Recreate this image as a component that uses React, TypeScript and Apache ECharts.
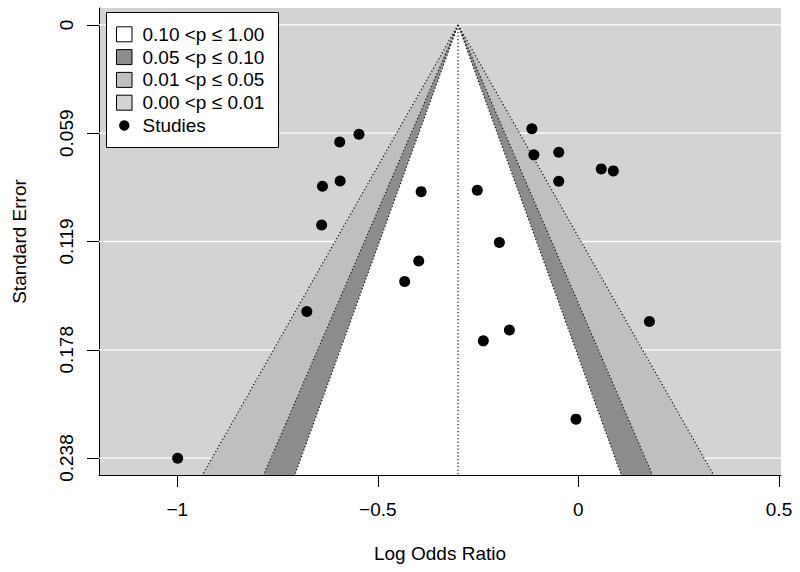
import React, { useEffect, useRef } from "react";
import * as echarts from "echarts";

// Study estimates (log odds ratio) and their standard errors
const studyLogOR = [
  -0.547, -0.595, -0.594, -0.638, -0.392, -0.64, -0.398, -0.433, -0.677, -0.999,
  -0.116, -0.111, -0.049, 0.057, 0.087, -0.049, -0.252, -0.197, -0.172, -0.237, 0.177, -0.006,
];
const studySE = [
  0.0601, 0.0643, 0.0857, 0.0886, 0.0916, 0.1099, 0.1297, 0.141, 0.1575, 0.2381,
  0.057, 0.0714, 0.0699, 0.0791, 0.0802, 0.0859, 0.0908, 0.1196, 0.1676, 0.1736, 0.163, 0.2166,
];

const pooledEstimate = -0.3;
// contour critical values, outermost first (p = 0.01, 0.05, 0.10)
const contourZ = [2.576, 1.96, 1.645];
const contourColors = ["#BFBFBF", "#8C8C8C", "#FFFFFF"];
const backColor = "#D3D3D3";

const xTickValues = [-1, -0.5, 0, 0.5];
const xTickLabels = ["\u22121", "\u22120.5", "0", "0.5"];
const yTickValues = [0, 0.0595, 0.119, 0.1785, 0.238];
const yTickLabels = ["0", "0.059", "0.119", "0.178", "0.238"];

const legendLabels = ["0.10 <p \u2264 1.00", "0.05 <p \u2264 0.10", "0.01 <p \u2264 0.05", "0.00 <p \u2264 0.01", "Studies"];
const legendColors = ["#FFFFFF", "#8C8C8C", "#BFBFBF", "#D3D3D3", "#000000"];

const X_MIN = -1.195;
const X_MAX = 0.505;
const Y_MIN = -0.0093;
const Y_MAX = 0.2473;

const FONT = "Liberation Sans, Arial, Helvetica, sans-serif";
const FS = 19;

function nearestLabel(v: number, vals: number[], labels: string[]) {
  let best = 0;
  for (let i = 1; i < vals.length; i++) {
    if (Math.abs(vals[i] - v) < Math.abs(vals[best] - v)) best = i;
  }
  return labels[best];
}

export default function App() {
  const ref = useRef<HTMLDivElement>(null);

  useEffect(() => {
    if (!ref.current) return;
    const chart = echarts.init(ref.current, undefined, { renderer: "svg" });

    const legendRowTop = 34.3;
    const legendStep = 22.8;
    const legendElements: any[] = [
      {
        type: "rect",
        shape: { x: 106.5, y: 12.5, width: 172, height: 135 },
        style: { fill: "#FFFFFF", stroke: "#000000", lineWidth: 1 },
        z: 100,
      },
    ];
    legendLabels.forEach((lab, i) => {
      const cy = legendRowTop + i * legendStep;
      if (i < 4) {
        legendElements.push({
          type: "rect",
          shape: { x: 116.5, y: cy - 7.5, width: 15.5, height: 15 },
          style: { fill: legendColors[i], stroke: "#000000", lineWidth: 1 },
          z: 101,
        });
      } else {
        legendElements.push({
          type: "circle",
          shape: { cx: 124.3, cy, r: 5.2 },
          style: { fill: legendColors[i] },
          z: 101,
        });
      }
      legendElements.push({
        type: "text",
        x: 142.5,
        y: cy,
        style: {
          text: lab,
          fill: "#000000",
          font: `${FS}px ${FONT}`,
          textAlign: "left",
          textVerticalAlign: "middle",
        },
        z: 101,
      });
    });

    const option: any = {
      animation: false,
      backgroundColor: "#FFFFFF",
      textStyle: { fontFamily: FONT },
      grid: {
        left: 99,
        right: 19,
        top: 8,
        bottom: 97,
        show: true,
        backgroundColor: backColor,
        borderWidth: 0,
        containLabel: false,
      },
      xAxis: {
        type: "value",
        min: X_MIN,
        max: X_MAX,
        name: "Log Odds Ratio",
        nameLocation: "middle",
        nameGap: 69,
        nameTextStyle: { fontSize: FS, color: "#000", fontFamily: FONT },
        axisLine: { show: true, onZero: false, lineStyle: { color: "#000", width: 1 } },
        axisTick: { show: true, length: 12, inside: false, customValues: xTickValues, lineStyle: { color: "#000", width: 1 } },
        axisLabel: {
          show: true,
          customValues: xTickValues,
          margin: 25,
          fontSize: FS,
          color: "#000",
          fontFamily: FONT,
          formatter: (v: number) => nearestLabel(v, xTickValues, xTickLabels),
        },
        splitLine: { show: false },
      },
      yAxis: {
        type: "value",
        inverse: true,
        min: Y_MIN,
        max: Y_MAX,
        name: "Standard Error",
        nameLocation: "middle",
        nameGap: 70,
        nameRotate: 90,
        nameTextStyle: { fontSize: FS, color: "#000", fontFamily: FONT },
        axisLine: { show: true, onZero: false, lineStyle: { color: "#000", width: 1 } },
        axisTick: { show: true, length: 12, inside: false, customValues: yTickValues, lineStyle: { color: "#000", width: 1 } },
        axisLabel: {
          show: true,
          customValues: yTickValues,
          rotate: 90,
          margin: 23,
          fontSize: FS,
          color: "#000",
          fontFamily: FONT,
          formatter: (v: number) => nearestLabel(v, yTickValues, yTickLabels),
        },
        splitLine: { show: false },
      },
      graphic: legendElements,
      series: [
        {
          name: "gridlines",
          type: "custom",
          z: 1,
          silent: true,
          data: yTickValues.map((v) => [0, v]),
          encode: { x: 0, y: 1 },
          renderItem: (params: any, api: any) => {
            const v = api.value(1);
            const p1 = api.coord([X_MIN, v]);
            const p2 = api.coord([X_MAX, v]);
            return {
              type: "line",
              shape: { x1: p1[0], y1: p1[1], x2: p2[0], y2: p2[1] },
              style: { stroke: "#FFFFFF", lineWidth: 1.3 },
            };
          },
        },
        {
          name: "contours",
          type: "custom",
          z: 2,
          silent: true,
          data: contourZ.map((z, i) => [z, i]),
          encode: { x: -1, y: -1 },
          renderItem: (params: any, api: any) => {
            const z = api.value(0);
            const i = api.value(1);
            const apex = api.coord([pooledEstimate, 0]);
            const l = api.coord([pooledEstimate - z * Y_MAX, Y_MAX]);
            const r = api.coord([pooledEstimate + z * Y_MAX, Y_MAX]);
            return {
              type: "polygon",
              shape: { points: [apex, l, r] },
              style: { fill: contourColors[i], stroke: "none" },
            };
          },
        },
        {
          name: "contourLines",
          type: "custom",
          z: 3,
          silent: true,
          data: contourZ.map((z, i) => [z, i]),
          encode: { x: -1, y: -1 },
          renderItem: (params: any, api: any) => {
            const z = api.value(0);
            const apex = api.coord([pooledEstimate, 0]);
            const l = api.coord([pooledEstimate - z * Y_MAX, Y_MAX]);
            const r = api.coord([pooledEstimate + z * Y_MAX, Y_MAX]);
            const st = { stroke: "#111111", lineWidth: 1.2, lineDash: [1.2, 2.3] };
            const children: any[] = [
              { type: "line", shape: { x1: apex[0], y1: apex[1], x2: l[0], y2: l[1] }, style: st },
              { type: "line", shape: { x1: apex[0], y1: apex[1], x2: r[0], y2: r[1] }, style: st },
            ];
            if (params.dataIndex === 0) {
              const b = api.coord([pooledEstimate, Y_MAX]);
              children.push({ type: "line", shape: { x1: apex[0], y1: apex[1], x2: b[0], y2: b[1] }, style: st });
            }
            return { type: "group", children };
          },
        },
        {
          name: "Studies",
          type: "scatter",
          z: 4,
          symbol: "circle",
          symbolSize: 11,
          itemStyle: { color: "#000000", opacity: 1 },
          data: studyLogOR.map((x, i) => [x, studySE[i]]),
        },
      ],
    };

    chart.setOption(option);
    return () => chart.dispose();
  }, []);

  return (
    <div
      ref={ref}
      style={{ position: "fixed", left: 0, top: 0, width: 800, height: 572 }}
    />
  );
}
